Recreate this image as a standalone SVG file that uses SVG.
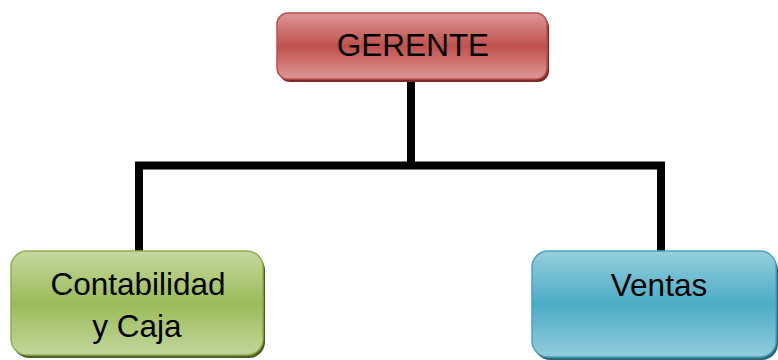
<svg xmlns="http://www.w3.org/2000/svg" width="778" height="360" viewBox="0 0 778 360">
<defs>
<linearGradient id="gRed" x1="0" y1="0" x2="0" y2="1">
<stop offset="0" stop-color="#dd9896"/>
<stop offset="0.5" stop-color="#c0504d"/>
<stop offset="1" stop-color="#dd9896"/>
</linearGradient>
<linearGradient id="gGreen" x1="0" y1="0" x2="0" y2="1">
<stop offset="0" stop-color="#c6d9a0"/>
<stop offset="0.5" stop-color="#9bbb59"/>
<stop offset="1" stop-color="#c2d69b"/>
</linearGradient>
<linearGradient id="gBlue" x1="0" y1="0" x2="0" y2="1">
<stop offset="0" stop-color="#95cfdd"/>
<stop offset="0.5" stop-color="#4bacc6"/>
<stop offset="1" stop-color="#93cddc"/>
</linearGradient>
<style>
.lbl{font-family:"Liberation Sans",Arial,sans-serif;font-size:31.5px;fill:#000;text-anchor:middle}
.conn{fill:none;stroke:#000;stroke-width:8;stroke-linejoin:miter}
</style>
</defs>
<g id="connectors">
<path class="conn" d="M411 78 V165.5"/>
<path class="conn" d="M139 252 V165.5 H661 V252"/>
</g>
<g id="gerente">
<rect x="279" y="16" width="270" height="66" rx="11" fill="#7a2a28"/>
<rect x="277" y="13" width="270" height="66" rx="11" fill="url(#gRed)" stroke="#bf4f4c" stroke-width="1.5"/>
<text class="lbl" x="413" y="56">GERENTE</text>
</g>
<g id="contabilidad">
<rect x="13" y="254" width="252" height="104" rx="16" fill="#4d5e2a"/>
<rect x="11" y="251" width="252" height="104" rx="16" fill="url(#gGreen)" stroke="#8fb04c" stroke-width="1.5"/>
<text class="lbl" x="138" y="295">Contabilidad</text>
<text class="lbl" x="137" y="337">y Caja</text>
</g>
<g id="ventas">
<rect x="534" y="254" width="244" height="106" rx="16" fill="#2a6878"/>
<rect x="532" y="251" width="244" height="106" rx="16" fill="url(#gBlue)" stroke="#46a5bf" stroke-width="1.5"/>
<text class="lbl" x="659" y="296">Ventas</text>
</g>
</svg>
